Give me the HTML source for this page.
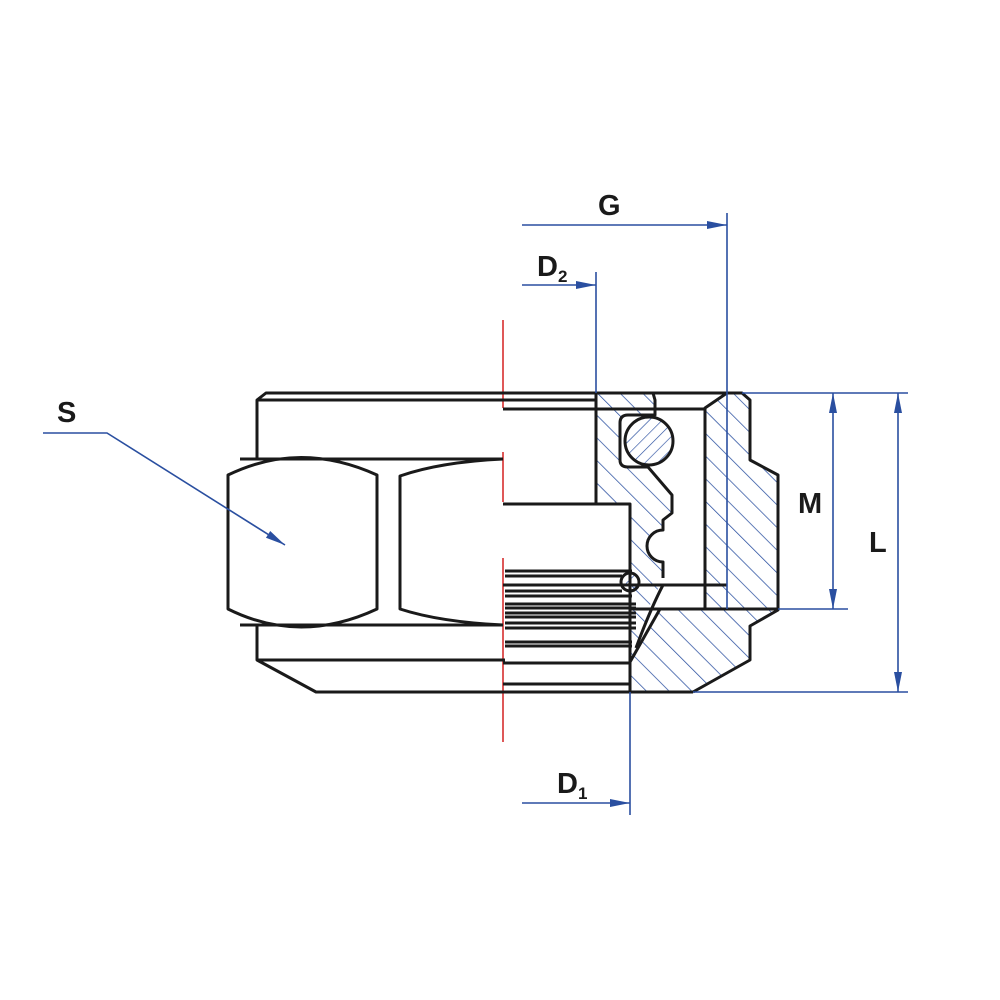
<!DOCTYPE html>
<html><head><style>
html,body{margin:0;padding:0;background:#fff}
svg{display:block}
.t{font-family:"Liberation Sans Narrow","Liberation Sans",sans-serif;font-weight:bold;fill:#1a1a1a}
</style></head><body>
<svg width="1000" height="1000" viewBox="0 0 1000 1000" xmlns="http://www.w3.org/2000/svg">
<defs>
<pattern id="h1" patternUnits="userSpaceOnUse" width="16" height="16" patternTransform="rotate(-45)">
<line x1="0" y1="0" x2="0" y2="16" stroke="#2a4fa0" stroke-width="1.5"/>
</pattern>
<pattern id="h2" patternUnits="userSpaceOnUse" width="9" height="9" patternTransform="rotate(45)">
<line x1="0" y1="0" x2="0" y2="9" stroke="#2a4fa0" stroke-width="1.3"/>
</pattern>
<marker id="a" viewBox="0 0 20 10" refX="20" refY="5" markerWidth="20" markerHeight="10" markerUnits="userSpaceOnUse" orient="auto-start-reverse">
<path d="M0,1 L20,5 L0,9 Z" fill="#2a4fa0"/>
</marker>
</defs>

<path d="M596,393 L653,393 L655,415 L622,415 L620,465 L648,467 L672,495 L672,513 L663,520 L663,530 A16,16 0 0 0 663,562 L663,578 L660,585 L650,605 L636,648 L630,660 L630,504 L596,504 Z" fill="url(#h1)"/>
<path d="M705,409 L727,393 L742,393 L750,400 L750,460 L778,475 L778,610 L750,626 L750,660 L693,692 L630,692 L630,662 L660,609 L705,609 Z" fill="url(#h1)"/>
<circle cx="649" cy="441" r="24" fill="url(#h2)"/>
<circle cx="630" cy="582" r="9" fill="url(#h2)"/>

<g stroke="#d42020" stroke-width="1.5">
<line x1="503" y1="320" x2="503" y2="408"/>
<line x1="503" y1="452" x2="503" y2="502"/>
<line x1="503" y1="558" x2="503" y2="742"/>
</g>

<g fill="none" stroke="#1a1a1a" stroke-width="3" stroke-linejoin="round">
<path d="M742,393 L266,393 L257,400 L257,459"/>
<line x1="257" y1="400" x2="596" y2="400"/>
<line x1="503" y1="409" x2="705" y2="409"/>
<line x1="240" y1="459" x2="503" y2="459"/>
<path d="M228,475 Q300,440 377,475 L377,609 Q300,645 228,609 Z"/>
<path d="M503,459 Q440,462 400,476 L400,609 Q440,622 503,625"/>
<line x1="240" y1="625" x2="503" y2="625"/>
<path d="M257,625 L257,660 L316,692 L693,692"/>
<line x1="257" y1="660" x2="505" y2="660"/>
<line x1="503" y1="663" x2="630" y2="663"/>
<line x1="503" y1="684" x2="630" y2="684"/>
<path d="M596,393 L596,504 L503,504 M596,504 L630,504 L630,692"/>
<path d="M600,393 L653,393 L655,400 L655,415 L628,415 Q620,415 620,423 L620,460 Q620,467 628,467 L648,467 L672,495 L672,513 L663,520 L663,530 A16,16 0 0 0 663,562 L663,578"/>
<circle cx="649" cy="441" r="24"/>
<circle cx="630" cy="582" r="9"/>
<path d="M663,585 Q650,610 636,648"/>
<line x1="660" y1="609" x2="630" y2="662"/>
<line x1="503" y1="585" x2="727" y2="585"/>
<line x1="630" y1="609" x2="778" y2="609"/>
<path d="M693,692 L750,660 L750,626 L778,610 L778,475 L750,460 L750,400 L742,393 L727,393 L705,408 L705,609"/>
</g>
<g stroke="#1a1a1a" stroke-width="3">
<line x1="505" y1="571" x2="632" y2="571"/>
<line x1="505" y1="576" x2="622" y2="576"/>
<line x1="505" y1="591" x2="622" y2="591"/>
<line x1="505" y1="596" x2="632" y2="596"/>
<line x1="505" y1="604" x2="636" y2="604"/>
<line x1="505" y1="608" x2="636" y2="608"/>
<line x1="505" y1="613" x2="636" y2="613"/>
<line x1="505" y1="617" x2="636" y2="617"/>
<line x1="505" y1="623" x2="636" y2="623"/>
<line x1="505" y1="628" x2="636" y2="628"/>
<line x1="505" y1="642" x2="632" y2="642"/>
<line x1="505" y1="646" x2="632" y2="646"/>
</g>

<g stroke="#2a4fa0" stroke-width="1.6" fill="none">
<line x1="522" y1="225" x2="727" y2="225" marker-end="url(#a)"/>
<line x1="727" y1="213" x2="727" y2="609"/>
<line x1="522" y1="285" x2="596" y2="285" marker-end="url(#a)"/>
<line x1="596" y1="272" x2="596" y2="393"/>
<line x1="522" y1="803" x2="630" y2="803" marker-end="url(#a)"/>
<line x1="630" y1="692" x2="630" y2="815"/>
<line x1="742" y1="393" x2="908" y2="393"/>
<line x1="778" y1="609" x2="848" y2="609"/>
<line x1="693" y1="692" x2="908" y2="692"/>
<line x1="833" y1="393" x2="833" y2="609" marker-start="url(#a)" marker-end="url(#a)"/>
<line x1="898" y1="393" x2="898" y2="692" marker-start="url(#a)" marker-end="url(#a)"/>
<path d="M43,433 L107,433 L285,545" marker-end="url(#a)"/>
</g>

<text class="t" x="598" y="215" font-size="29">G</text>
<text class="t" x="537" y="276" font-size="29">D<tspan font-size="17" dy="6">2</tspan></text>
<text class="t" x="557" y="793" font-size="29">D<tspan font-size="17" dy="6">1</tspan></text>
<text class="t" x="798" y="513" font-size="29">M</text>
<text class="t" x="869" y="552" font-size="29">L</text>
<text class="t" x="57" y="422" font-size="29">S</text>
</svg>
</body></html>
